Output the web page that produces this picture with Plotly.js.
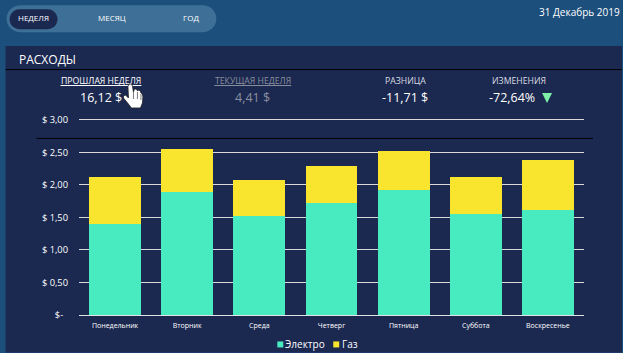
<!DOCTYPE html>
<html><head><meta charset="utf-8">
<script src="https://cdn.plot.ly/plotly-3.0.1.min.js"></script>
<style>html,body{margin:0;padding:0;background:#1d4f7c;overflow:hidden}#c{width:623px;height:353px}</style>
</head><body><div id="c"></div>
<script>
const categories=["Понедельник","Вторник","Среда","Четверг","Пятница","Суббота","Воскресенье"];
const electro=[1.40,1.89,1.52,1.73,1.92,1.55,1.61];
const gas=[0.72,0.67,0.55,0.56,0.61,0.57,0.78];
const tickVals=[0,0.5,1,1.5,2,2.5,3];
const tickText=["$-\u00a0\u00a0","$ 0,50","$ 1,00","$ 1,50","$ 2,00","$ 2,50","$ 3,00"];
const yMax=3.03;
const W=623,H=353,L=78.5,R=584,B=315.5,T=B-(B-120)/3*yMax;
const FONT="Open Sans";
const fx=x=>(x-L)/(R-L), fy=y=>(B-y)/(B-T);
const txt=(x,y,text,size,color,anchor)=>({xref:'paper',yref:'paper',x:fx(x),y:fy(y),text,showarrow:false,
  xanchor:anchor||'center',yanchor:'middle',font:{family:FONT,size,color},borderpad:0,borderwidth:0});
const rect=(x0,y0,x1,y1,fill,layer)=>({type:'rect',xref:'paper',yref:'paper',x0:fx(x0),x1:fx(x1),y0:fy(y0),y1:fy(y1),
  fillcolor:fill,line:{width:0},layer:layer||'below'});
const hline=(x0,x1,y,color,w)=>({type:'line',xref:'paper',yref:'paper',x0:fx(x0),x1:fx(x1),y0:fy(y),y1:fy(y),line:{color,width:w||1},layer:'above'});
const seg=(x0,y0,x1,y1,color)=>({type:'line',xref:'paper',yref:'paper',x0:fx(x0),x1:fx(x1),y0:fy(y0),y1:fy(y1),line:{color,width:0.8},layer:'above'});
const pill=(x0,y0,x1,y1,fill)=>{const r=(y1-y0)/2,n=12;let p=[];
  for(let i=0;i<=n;i++){const a=-Math.PI/2+Math.PI*i/n;p.push([x1-r+r*Math.cos(a),y0+r+r*Math.sin(a)]);}
  for(let i=0;i<=n;i++){const a=Math.PI/2+Math.PI*i/n;p.push([x0+r+r*Math.cos(a),y0+r+r*Math.sin(a)]);}
  return {type:'path',xref:'paper',yref:'paper',layer:'below',fillcolor:fill,line:{width:0},
    path:'M'+p.map(q=>fx(q[0])+','+fy(q[1])).join('L')+'Z'};};
const poly=(pts,fill,line)=>({type:'path',xref:'paper',yref:'paper',layer:'above',fillcolor:fill,
  line:line?{color:line,width:0.8}:{width:0},path:'M'+pts.map(q=>fx(q[0])+','+fy(q[1])).join('L')+'Z'});
const hand=[[127.5,86],[129,84],[131,84],[132,86],[133,92],[134,89],[136,89],[137,91],[138,90],[140,91],[140.5,93],[142,94],[142.5,97],[142,103],[140,108],[131,108],[128,104],[123,98],[123,96],[125,95],[128,98]];
const shapes=[
  rect(0,0,W,46,'#1d4f7c'),
  rect(5,46,622,H,'#1b2850'),
  pill(6,5,216,32,'#3e6f96'),
  pill(9,9,57,29,'#1b2850'),
  hline(5,622,69.5,'#000000'),
  hline(36,593,138.5,'#000000'),
  hline(60,141,85.5,'#ffffff'),
  hline(214,291,85.5,'#8a8f9e'),
  poly([[542,93],[552,93],[547,103]],'#7df0a6'),
  poly(hand,'#ffffff','#222222'),
  seg(133,92,133,99,'#555555'),seg(137,92,137,99,'#555555'),seg(140.5,94,140.5,100,'#555555'),
  rect(277,342,283,348,'#48eac0'),
  rect(333,342,339,348,'#f9e52e')
];
const annotations=[
  txt(33,17,'НЕДЕЛЯ',8,'#ffffff'),txt(112,17,'МЕСЯЦ',8,'#ffffff'),txt(191,17,'ГОД',8,'#ffffff'),
  txt(620,12,'31 Декабрь 2019',10,'#ffffff','right'),
  txt(18,59,'РАСХОДЫ',12,'#ffffff','left'),
  txt(100.5,81,'ПРОШЛАЯ НЕДЕЛЯ',8.7,'#ffffff'),txt(252.5,81,'ТЕКУЩАЯ НЕДЕЛЯ',8.7,'#8a8f9e'),
  txt(405,81,'РАЗНИЦА',8.7,'#d9dbe2'),txt(519,81,'ИЗМЕНЕНИЯ',8.7,'#d9dbe2'),
  txt(101,97,'16,12 $',12.5,'#ffffff'),txt(252,97,'4,41 $',12.5,'#8a8f9e'),
  txt(405,97,'-11,71 $',12.5,'#ffffff'),txt(512,97,'-72,64%',12.5,'#ffffff'),
  txt(285,345,'Электро',10,'#ffffff','left'),
  txt(341.5,345,'Газ',10,'#ffffff','left')
];
const data=[
  {type:'bar',name:'Электро',x:categories,y:electro,marker:{color:'#48eac0',line:{width:0}},hoverinfo:'none'},
  {type:'bar',name:'Газ',x:categories,y:gas,marker:{color:'#f9e52e',line:{width:0}},hoverinfo:'none'}
];
const layout={width:W,height:H,barmode:'stack',bargap:0.28,showlegend:false,
  paper_bgcolor:'#1d4f7c',plot_bgcolor:'rgba(0,0,0,0)',
  margin:{l:L,r:W-R,t:T,b:H-B,pad:0},
  xaxis:{type:'category',tickfont:{family:FONT,size:7,color:'#ffffff'},ticks:'',showgrid:false,zeroline:false,
    showline:true,linecolor:'#e0e2e6',linewidth:1,ticklen:0,ticklabelstandoff:4,automargin:false},
  yaxis:{range:[0,yMax],tickvals:tickVals,ticktext:tickText,tickfont:{family:FONT,size:9.3,color:'#ffffff'},
    showgrid:true,gridcolor:'#d9d9d9',gridwidth:1,zeroline:false,ticks:'',ticklabelstandoff:10,automargin:false},
  shapes,annotations,font:{family:FONT}};
Plotly.newPlot('c',data,layout,{displayModeBar:false,staticPlot:true});
</script></body></html>
